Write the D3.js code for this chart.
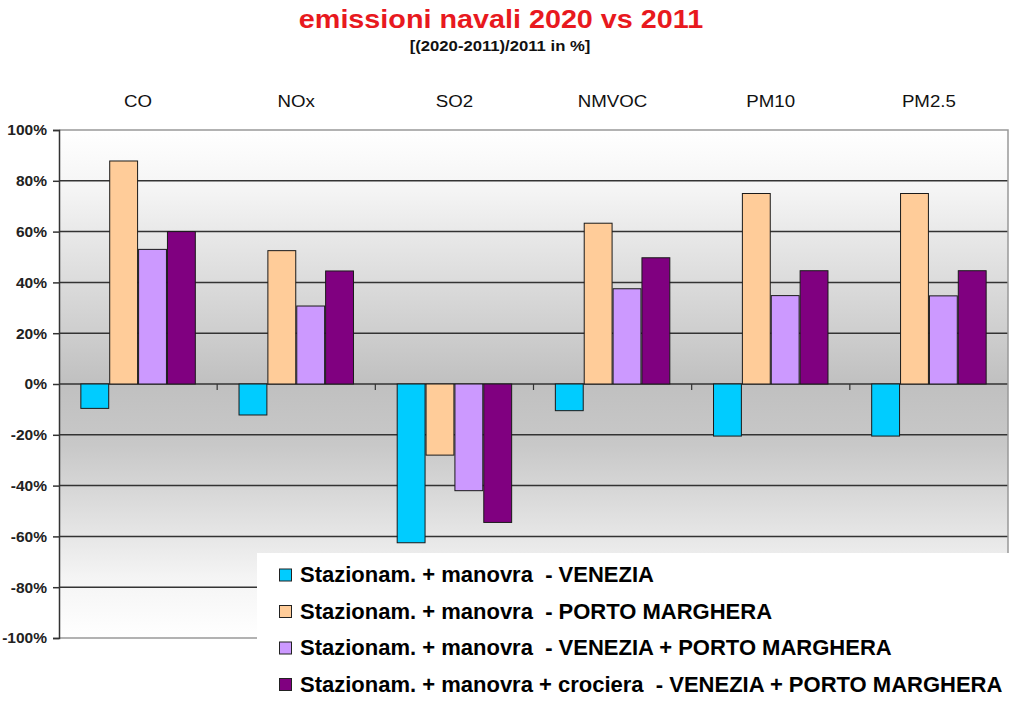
<!DOCTYPE html>
<html><head><meta charset="utf-8">
<script src="https://cdn.jsdelivr.net/npm/d3@7"></script>
<style>
html,body{margin:0;padding:0;background:#fff;}
svg{display:block;}
</style></head>
<body>
<svg id="chart" width="1023" height="703"></svg>
<script>
const categories = ["CO","NOx","SO2","NMVOC","PM10","PM2.5"];
const seriesNames = [
  "Stazionam. + manovra  - VENEZIA",
  "Stazionam. + manovra  - PORTO MARGHERA",
  "Stazionam. + manovra  - VENEZIA + PORTO MARGHERA",
  "Stazionam. + manovra + crociera  - VENEZIA + PORTO MARGHERA"
];
const venezia        = [-9.6, -12.2, -62.5, -10.5, -20.5, -20.5];
const portoMarghera  = [87.8, 52.5, -28.0, 63.3, 75.0, 75.0];
const veneziaPM      = [53.0, 30.7, -42.0, 37.5, 34.8, 34.7];
const crociera       = [60.0, 44.5, -54.5, 49.7, 44.6, 44.6];
const yTicks = [-100,-80,-60,-40,-20,0,20,40,60,80,100];
const colors = ["#00CCFF","#FFCC99","#CC99FF","#800080"];
const title = "emissioni navali 2020 vs 2011";
const subtitle = "[(2020-2011)/2011 in %]";

const series = [venezia, portoMarghera, veneziaPM, crociera];
const svg = d3.select("#chart");
const L = 59, R = 1008, T = 130, B = 638;
const FONT = "Liberation Sans, Arial, sans-serif";

const x0 = d3.scaleBand().domain(categories).range([L, R]).paddingInner(0.27).paddingOuter(0.135);
const x1 = d3.scaleBand().domain(d3.range(series.length)).range([0, x0.bandwidth()]).padding(0);
const y = d3.scaleLinear().domain([-100, 100]).range([B, T]);

// gradient background
const defs = svg.append("defs");
const g = defs.append("linearGradient").attr("id","bg").attr("x1",0).attr("y1",0).attr("x2",0).attr("y2",1);
[[0,"#ffffff"],[0.12,"#f4f4f4"],[0.5,"#c0c0c0"],[0.62,"#c8c8c8"],[0.88,"#f4f4f4"],[1,"#ffffff"]]
  .forEach(([o,c]) => g.append("stop").attr("offset",o).attr("stop-color",c));
svg.append("rect").attr("x",L).attr("y",T).attr("width",R-L).attr("height",B-T).attr("fill","url(#bg)");

// gridlines
svg.append("g").selectAll("line").data(yTicks.filter(v => v > -100 && v < 100)).join("line")
  .attr("x1", L).attr("x2", R).attr("y1", d => y(d)).attr("y2", d => y(d))
  .attr("stroke", "#333").attr("stroke-width", 1.5);
// border top / right / bottom
svg.append("path").attr("d", `M${L},${y(100)}H${R}V${y(-100)}H${L}`).attr("fill","none").attr("stroke","#999").attr("stroke-width",1.5);

// bars
const groups = svg.append("g").selectAll("g").data(categories).join("g")
  .attr("transform", d => `translate(${x0(d)},0)`);
groups.selectAll("rect").data((c, i) => series.map((s, k) => ({k, v: s[i]}))).join("rect")
  .attr("x", d => x1(d.k) + 0.5)
  .attr("width", x1.bandwidth() - 1)
  .attr("y", d => y(Math.max(0, d.v)))
  .attr("height", d => Math.abs(y(d.v) - y(0)))
  .attr("fill", d => colors[d.k])
  .attr("stroke", "#1a1a1a").attr("stroke-width", 1);

// category ticks on zero line
svg.append("g").selectAll("line").data(categories.slice(1)).join("line")
  .attr("x1", d => x0(d) - x0.step()*x0.paddingInner()/2).attr("x2", d => x0(d) - x0.step()*x0.paddingInner()/2)
  .attr("y1", y(0)).attr("y2", y(0) + 6).attr("stroke","#333").attr("stroke-width",1.2);

// y axis
const yAxis = d3.axisLeft(y).tickValues(yTicks).tickSize(6).tickPadding(6).tickFormat(d => d + "%");
const ya = svg.append("g").attr("transform", `translate(${L},0)`).call(yAxis);
ya.select(".domain").attr("stroke","#333").attr("stroke-width",1.5);
ya.selectAll(".tick line").attr("stroke","#333").attr("stroke-width",1.5);
ya.selectAll(".tick text").attr("font-family",FONT).attr("font-weight","bold")
  .attr("font-size","15.5px").attr("fill","#222");

// category labels on top
svg.append("g").selectAll("text").data(categories).join("text")
  .attr("transform", d => `translate(${x0(d) + x0.bandwidth()/2},107) scale(1.1,1)`)
  .attr("text-anchor","middle").attr("font-family",FONT)
  .attr("font-size","17px").attr("fill","#111").text(d => d);

// title
svg.append("text").attr("transform","translate(501,28) scale(1.15,1)").attr("text-anchor","middle")
  .attr("font-family",FONT).attr("font-weight","bold")
  .attr("font-size","25px").attr("fill","#E8191E").text(title);
svg.append("text").attr("transform","translate(500,51) scale(1.15,1)").attr("text-anchor","middle")
  .attr("font-family",FONT).attr("font-weight","bold")
  .attr("font-size","14.5px").attr("fill","#111").text(subtitle);

// legend
svg.append("rect").attr("x",257).attr("y",553).attr("width",1023-257).attr("height",703-553).attr("fill","#fff");
const lg = svg.append("g").selectAll("g").data(seriesNames).join("g")
  .attr("transform", (d, i) => `translate(279,${582 + i*36.5})`);
lg.append("rect").attr("x",0.5).attr("y",-13).attr("width",12).attr("height",12)
  .attr("fill", (d,i) => colors[i]).attr("stroke","#222").attr("stroke-width",1);
lg.append("text").attr("x",21).attr("y",0)
  .attr("font-family",FONT)
  .attr("font-weight","bold").attr("font-size","22px").attr("fill","#000")
  .style("white-space","pre").attr("xml:space","preserve").text(d => d);
</script>
</body></html>
